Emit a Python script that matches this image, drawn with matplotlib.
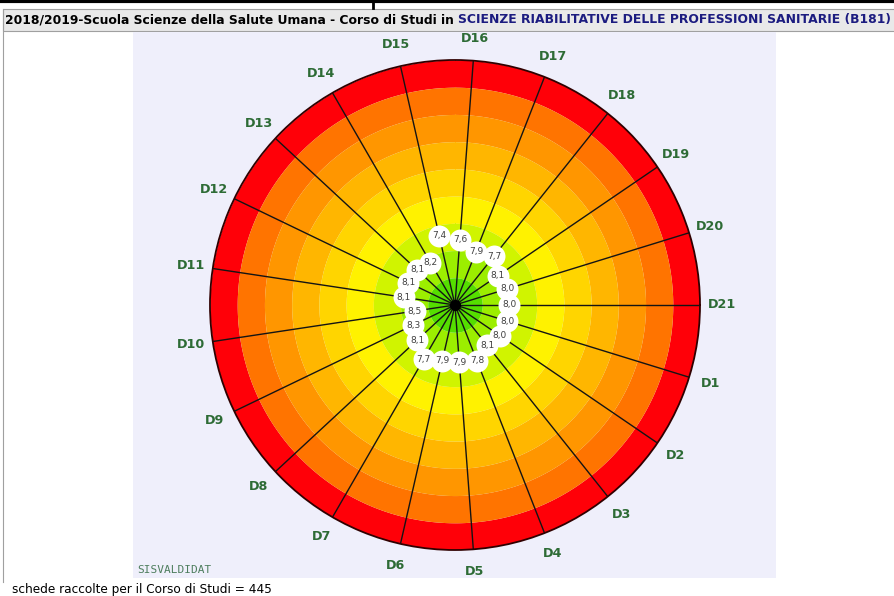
import matplotlib.pyplot as plt
import numpy as np
from matplotlib.patches import Rectangle
from matplotlib.lines import Line2D

# domande D1..D21 e punteggio medio (scala 1-10)
labels = ['D%d' % k for k in range(1, 22)]
values = [8.0, 8.0, 8.1, 7.8, 7.9, 7.9, 7.7, 8.1, 8.3, 8.5, 8.1,
          8.1, 8.1, 8.2, 7.4, 7.6, 7.9, 7.7, 8.1, 8.0, 8.0]

# fasce colorate: da 1 (bordo) a 10 (centro)
band_edges = [1, 2, 3, 4, 5, 6, 7, 8, 9, 10]
band_colors = ['#ff0008', '#ff7400', '#ff9600', '#ffb600', '#ffd500',
               '#fff200', '#d0f400', '#9cee00', '#55de00']

title_a = "2018/2019-Scuola Scienze della Salute Umana - Corso di Studi in "
title_b = "SCIENZE RIABILITATIVE DELLE PROFESSIONI SANITARIE (B181)"
footer = "schede raccolte per il Corso di Studi = 445"

W, H = 895, 596
fig = plt.figure(figsize=(W / 100, H / 100), dpi=100)
fig.patch.set_facecolor('white')


def rect(x, y, w, h, **kw):
    fig.add_artist(Rectangle((x / W, 1 - (y + h) / H), w / W, h / H,
                             transform=fig.transFigure, zorder=-5, **kw))


def line(x0, y0, x1, y1, **kw):
    fig.add_artist(Line2D([x0 / W, x1 / W], [1 - y0 / H, 1 - y1 / H],
                          transform=fig.transFigure, zorder=-4, **kw))


# cornice pagina
line(0, 1, W, 1, color='black', lw=3)
line(373, 0, 373, 8, color='black', lw=2)
rect(3, 9, W, 22, facecolor='#e9e9e9', edgecolor='#a0a0a0', lw=0.8)
line(3, 9, 3, 582, color='#a0a0a0', lw=0.8)
rect(133, 32, 643, 546, facecolor='#efeffb', edgecolor='none')

t1 = fig.text(5 / W, 1 - 20 / H, title_a, fontsize=8.9, fontweight='bold',
              color='black', va='center', ha='left')
fig.canvas.draw()
bb = t1.get_window_extent()
fig.text(bb.x1 / W, 1 - 20 / H, title_b, fontsize=8.9, fontweight='bold',
         color='#1c1c80', va='center', ha='left')

# ruota
cx, cy, R = 455, 305, 245
ax = fig.add_axes([(cx - R) / W, (H - cy - R) / H, 2 * R / W, 2 * R / H],
                  projection='polar')
ax.set_zorder(3)
ax.set_facecolor('none')
ax.set_ylim(10, 1)
ax.set_xticks([])
ax.set_yticks([])
ax.grid(False)
ax.spines['polar'].set_color('#300000')
ax.spines['polar'].set_linewidth(1.3)

th = np.linspace(0, 2 * np.pi, 721)
for lo, hi, c in zip(band_edges[:-1], band_edges[1:], band_colors):
    ax.fill_between(th, lo, hi, color=c, lw=0)

n = len(labels)
theta = [2 * np.pi * (n - k) / n for k in range(1, n + 1)]
for t in theta:
    ax.plot([t, t], [10, 1], color='#141414', lw=1.0)
ax.scatter([0], [10], s=50, color='black', zorder=4)

ax.scatter(theta, values, s=250, color='white', zorder=5, lw=0)
for t, v in zip(theta, values):
    ax.text(t, v, ('%.1f' % v).replace('.', ','), fontsize=6.5, color='#404040',
            ha='center', va='center', zorder=6)

for t, lab in zip(theta, labels):
    ax.text(t, 0.18, lab, fontsize=9.2, fontweight='bold', color='#2d6b35',
            ha='center', va='center', clip_on=False)

fig.text(137 / W, 1 - 570 / H, 'SISVALDIDAT', fontsize=8, family='DejaVu Sans Mono',
         color='#4d7d5d', va='center', ha='left')
fig.text(12 / W, 1 - 589 / H, footer, fontsize=8.7, color='black',
         va='center', ha='left')

fig.savefig('out.png', dpi=100)
